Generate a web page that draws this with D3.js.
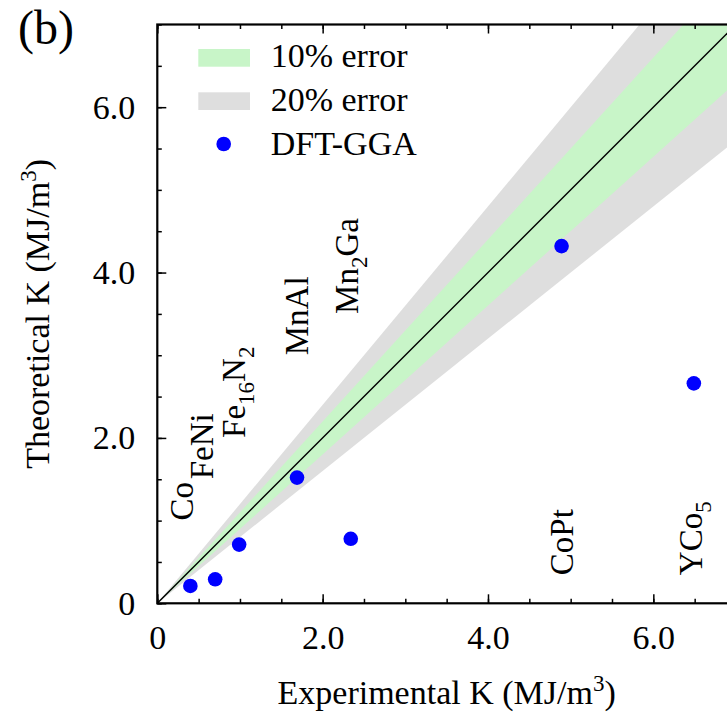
<!DOCTYPE html>
<html>
<head>
<meta charset="utf-8">
<script src="https://cdn.jsdelivr.net/npm/d3@7"></script>
<style>
  body { margin: 0; background: #fff; }
  text { font-family: "Liberation Serif", "DejaVu Serif", serif; fill: #000; }
</style>
</head>
<body>
<div id="chart"></div>
<script>

/*****************
***** DATA *****
*****************/

const compounds = ["Co", "FeNi", "Fe16N2", "MnAl", "Mn2Ga", "CoPt", "YCo5"];
const experimentalK = [0.40, 0.70, 0.99, 1.69, 2.34, 4.89, 6.49];
const theoreticalK = [0.21, 0.29, 0.71, 1.52, 0.78, 4.32, 2.66];

// where each rotated compound name starts, in MJ/m3 units
const labelAtX = [0.43, 0.67, 1.06, 1.82, 2.43, 5.03, 6.59];
const labelAtY = [1.0, 1.5, 2.0, 3.0, 3.5, 0.34, 0.34];

const majorTicks = [0, 2, 4, 6];
const minorTicks = d3.range(0, 7.01, 0.5);

const bandInner = 0.10;
const bandOuter = 0.20;

const legendLabels = ["10% error", "20% error", "DFT-GGA"];

/**********************
***** BASIC SETUP *****
**********************/

const width = 727;
const height = 712;
const margin = {top: 24.5, left: 157.3, right: -9, bottom: 108.7};

const GREEN = "#c8f5c8";
const GREY = "#dedede";
const BLUE = "#0000ff";
const FONT = 34;

const svg = d3.select("#chart").append("svg")
    .attr("width", width)
    .attr("height", height);

const x = d3.scaleLinear()
    .domain([0, 7])
    .range([margin.left, width - margin.right]);

const y = d3.scaleLinear()
    .domain([0, 7])
    .range([height - margin.bottom, margin.top]);

svg.append("clipPath")
    .attr("id", "plotClip")
    .append("rect")
    .attr("x", x(0))
    .attr("y", y(7))
    .attr("width", x(7) - x(0))
    .attr("height", y(0) - y(7));

const plot = svg.append("g")
    .attr("clip-path", "url(#plotClip)");

/******************
***** BANDS *****
******************/

function band(frac) {
    return d3.area()
        .x(d => x(d))
        .y0(d => y(d * (1 - frac)))
        .y1(d => y(d * (1 + frac)));
}

plot.append("path")
    .attr("d", band(bandOuter)([0, 7]))
    .attr("fill", GREY);

plot.append("path")
    .attr("d", band(bandInner)([0, 7]))
    .attr("fill", GREEN);

plot.append("line")
    .attr("x1", x(0)).attr("y1", y(0))
    .attr("x2", x(7)).attr("y2", y(7))
    .attr("stroke", "#000")
    .attr("stroke-width", 1.4);

/*******************
***** POINTS *****
*******************/

plot.selectAll(".pt")
    .data(compounds)
    .enter()
    .append("circle")
    .attr("class", "pt")
    .attr("cx", (d, i) => x(experimentalK[i]))
    .attr("cy", (d, i) => y(theoreticalK[i]))
    .attr("r", 7.3)
    .attr("fill", BLUE);

// compound names, digits become subscripts
const SUB_SHIFT = 9;

const names = svg.selectAll(".name")
    .data(compounds)
    .enter()
    .append("text")
    .attr("class", "name")
    .attr("transform", (d, i) => `translate(${x(labelAtX[i])},${y(labelAtY[i])}) rotate(-90)`)
    .attr("font-size", 33);

names.each(function(d) {
    const t = d3.select(this);
    let shift = 0;
    d.split(/(\d+)/).filter(s => s.length).forEach(s => {
        const sub = /^\d+$/.test(s);
        const target = sub ? SUB_SHIFT : 0;
        const ts = t.append("tspan").text(s);
        if (target !== shift) ts.attr("dy", target - shift);
        if (sub) ts.attr("font-size", 23);
        shift = target;
    });
});

/*****************
***** AXES *****
*****************/

const fmt = d => d === 0 ? "0" : d3.format(".1f")(d);

function styleAxis(g) {
    g.select(".domain").remove();
    g.selectAll("line").attr("stroke", "#000").attr("stroke-width", 1.5);
    g.selectAll("text").attr("font-size", FONT).attr("font-family", null).attr("fill", "#000");
}

// bottom
svg.append("g")
    .attr("transform", `translate(0,${y(0)})`)
    .call(d3.axisBottom(x).tickValues(minorTicks).tickSize(-4.5).tickFormat(""))
    .call(styleAxis);
svg.append("g")
    .attr("transform", `translate(0,${y(0)})`)
    .call(d3.axisBottom(x).tickValues(majorTicks).tickSize(-9).tickPadding(22).tickFormat(fmt))
    .call(styleAxis);

// top
svg.append("g")
    .attr("transform", `translate(0,${y(7)})`)
    .call(d3.axisTop(x).tickValues(minorTicks).tickSize(-4.5).tickFormat(""))
    .call(styleAxis);
svg.append("g")
    .attr("transform", `translate(0,${y(7)})`)
    .call(d3.axisTop(x).tickValues(majorTicks).tickSize(-9).tickFormat(""))
    .call(styleAxis);

// left
svg.append("g")
    .attr("transform", `translate(${x(0)},0)`)
    .call(d3.axisLeft(y).tickValues(minorTicks).tickSize(-4.5).tickFormat(""))
    .call(styleAxis);
svg.append("g")
    .attr("transform", `translate(${x(0)},0)`)
    .call(d3.axisLeft(y).tickValues(majorTicks).tickSize(-9).tickPadding(22).tickFormat(fmt))
    .call(styleAxis);

// right
svg.append("g")
    .attr("transform", `translate(${x(7)},0)`)
    .call(d3.axisRight(y).tickValues(minorTicks).tickSize(-4.5).tickFormat(""))
    .call(styleAxis);
svg.append("g")
    .attr("transform", `translate(${x(7)},0)`)
    .call(d3.axisRight(y).tickValues(majorTicks).tickSize(-9).tickFormat(""))
    .call(styleAxis);

// remove the empty label nodes of the unlabelled axes
svg.selectAll(".tick text").filter(function() { return this.textContent === ""; }).remove();

// frame
svg.append("rect")
    .attr("x", x(0))
    .attr("y", y(7))
    .attr("width", x(7) - x(0))
    .attr("height", y(0) - y(7))
    .attr("fill", "none")
    .attr("stroke", "#000")
    .attr("stroke-width", 2.2);

/*************************
***** TITLES, LABEL *****
*************************/

const xTitle = svg.append("text")
    .attr("x", (x(0) + x(7)) / 2)
    .attr("y", 704)
    .attr("text-anchor", "middle")
    .attr("font-size", FONT);
xTitle.append("tspan").text("Experimental K (MJ/m");
xTitle.append("tspan").attr("dy", -13).attr("font-size", 23).text("3");
xTitle.append("tspan").attr("dy", 13).text(")");

const yTitle = svg.append("text")
    .attr("transform", `translate(49,${(y(0) + y(7)) / 2}) rotate(-90)`)
    .attr("text-anchor", "middle")
    .attr("font-size", FONT);
yTitle.append("tspan").text("Theoretical K (MJ/m");
yTitle.append("tspan").attr("dy", -13).attr("font-size", 23).text("3");
yTitle.append("tspan").attr("dy", 13).text(")");

svg.append("text")
    .attr("x", 18)
    .attr("y", 44)
    .attr("font-size", 48)
    .text("(b)");

/*******************
***** LEGEND *****
*******************/

const legend = svg.append("g")
    .attr("class", "legend");

[GREEN, GREY].forEach((c, i) => {
    legend.append("rect")
        .attr("x", 198.3)
        .attr("y", 49 + i * 43.3)
        .attr("width", 51.7)
        .attr("height", 17.7)
        .attr("fill", c);
});

legend.append("circle")
    .attr("cx", 223.7)
    .attr("cy", 144)
    .attr("r", 7.3)
    .attr("fill", BLUE);

legend.selectAll(".legText")
    .data(legendLabels)
    .enter()
    .append("text")
    .attr("class", "legText")
    .attr("x", 270.7)
    .attr("y", (d, i) => 67 + i * 44)
    .attr("font-size", FONT)
    .text(d => d);

</script>
</body>
</html>
